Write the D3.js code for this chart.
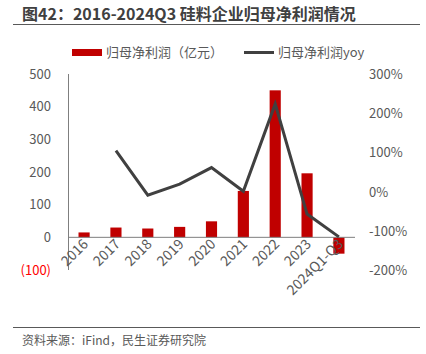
<!DOCTYPE html>
<html>
<head>
<meta charset="utf-8">
<script src="https://cdn.jsdelivr.net/npm/d3@7"></script>
<style>
  body { margin: 0; background: #fff; }
  text { font-family: "Noto Sans CJK SC", "Noto Sans", sans-serif; }
</style>
</head>
<body>
<div id="chart"></div>
<script>
var years = ["2016", "2017", "2018", "2019", "2020", "2021", "2022", "2023", "2024Q1-Q3"];
var profit = [15, 30, 27, 32, 49, 142, 450, 196, -50];
var yoy = [null, 105, -8, 20, 62, 2, 224, -56, -114];
var leftTicks = [-100, 0, 100, 200, 300, 400, 500];
var rightTicks = [-200, -100, 0, 100, 200, 300];

var width = 426, height = 354;
var svg = d3.select("#chart").append("svg")
    .attr("width", width)
    .attr("height", height);

// title
svg.append("text")
    .attr("x", 22).attr("y", 20)
    .style("font-size", "16px")
    .style("font-weight", "bold")
    .attr("fill", "#404040")
    .text("图42：2016-2024Q3 硅料企业归母净利润情况");
svg.append("line")
    .attr("x1", 13).attr("x2", 420)
    .attr("y1", 24.5).attr("y2", 24.5)
    .attr("stroke", "#595959").attr("stroke-width", 1.2);

// scales
var x = d3.scaleBand().domain(years).range([68, 355]).paddingInner(0.65).paddingOuter(0.33);
var xc = function(d) { return x(d) + x.bandwidth() / 2; };
var y = d3.scaleLinear().domain([-100, 500]).range([270, 74]);
var y2 = d3.scaleLinear().domain([-200, 300]).range([270.7, 74]);

// left axis labels
svg.selectAll(".lt").data(leftTicks).enter().append("text")
    .attr("x", 51).attr("y", function(d) { return y(d); })
    .attr("dy", "0.35em")
    .attr("text-anchor", "end")
    .style("font-size", "13px")
    .attr("fill", function(d) { return d < 0 ? "#ff0000" : "#595959"; })
    .text(function(d) { return d < 0 ? "(" + (-d) + ")" : d; });

// right axis labels
svg.selectAll(".rt").data(rightTicks).enter().append("text")
    .attr("x", 369).attr("y", function(d) { return y2(d); })
    .attr("dy", "0.35em")
    .style("font-size", "13px")
    .attr("fill", "#595959")
    .text(function(d) { return d + "%"; });

// bars
svg.selectAll(".bar").data(profit).enter().append("rect")
    .attr("x", function(d, i) { return x(years[i]); })
    .attr("width", x.bandwidth())
    .attr("y", function(d) { return y(Math.max(0, d)); })
    .attr("height", function(d) { return Math.abs(y(d) - y(0)); })
    .attr("fill", "#c00000");

// axes lines
svg.append("line")
    .attr("x1", 68.5).attr("x2", 68.5)
    .attr("y1", 74).attr("y2", 270)
    .attr("stroke", "#7f7f7f").attr("stroke-width", 1);
svg.append("line")
    .attr("x1", 68).attr("x2", 355)
    .attr("y1", y(0)).attr("y2", y(0))
    .attr("stroke", "#7f7f7f").attr("stroke-width", 1);

// yoy line
var line = d3.line()
    .defined(function(d) { return d != null; })
    .x(function(d, i) { return xc(years[i]); })
    .y(function(d) { return y2(d); });
svg.append("path")
    .datum(yoy)
    .attr("fill", "none")
    .attr("stroke", "#404040")
    .attr("stroke-width", 3)
    .attr("d", line);

// x labels
svg.selectAll(".xl").data(years).enter().append("text")
    .attr("transform", function(d) { return "translate(" + (xc(d) + 5) + "," + 245 + ") rotate(-45)"; })
    .attr("text-anchor", "end")
    .style("font-size", "14px")
    .attr("fill", "#595959")
    .text(function(d) { return d; });

// legend
svg.append("rect")
    .attr("x", 72).attr("y", 49).attr("width", 30).attr("height", 7)
    .attr("fill", "#c00000");
svg.append("text")
    .attr("x", 106).attr("y", 57)
    .style("font-size", "13px").attr("fill", "#595959")
    .text("归母净利润（亿元）");
svg.append("line")
    .attr("x1", 244).attr("x2", 274).attr("y1", 52.5).attr("y2", 52.5)
    .attr("stroke", "#404040").attr("stroke-width", 3);
svg.append("text")
    .attr("x", 278).attr("y", 57)
    .style("font-size", "13px").attr("fill", "#595959")
    .text("归母净利润yoy");

// footer
svg.append("line")
    .attr("x1", 13).attr("x2", 420)
    .attr("y1", 327.5).attr("y2", 327.5)
    .attr("stroke", "#595959").attr("stroke-width", 1);
svg.append("text")
    .attr("x", 22).attr("y", 345)
    .style("font-size", "12px").attr("fill", "#595959")
    .text("资料来源：iFind，民生证券研究院");
</script>
</body>
</html>
